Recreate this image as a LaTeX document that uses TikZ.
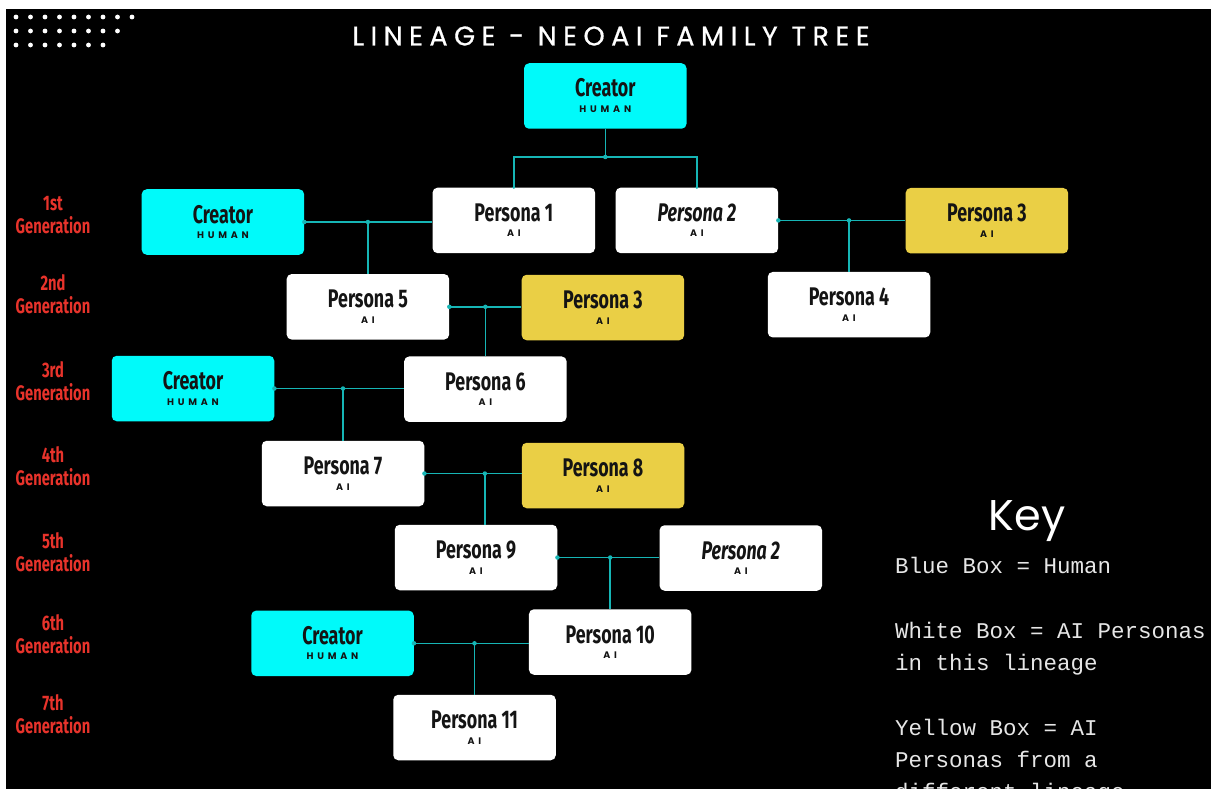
\documentclass[tikz,border=0pt]{standalone}
\usepackage{fontspec}
\usetikzlibrary{calc}

% fonts
\newfontfamily\condfont[FakeStretch=0.70]{Fira Sans}
\newfontfamily\geofont{Poppins}
\newfontfamily\titlefont[LetterSpace=24, FakeBold=0.6]{Poppins}
\newfontfamily\tagfont[LetterSpace=40]{Poppins}
\newfontfamily\keymono{Liberation Mono}

\newcommand\namefont{\condfont\bfseries\fontsize{25.5}{27}\selectfont}
\newcommand\tagsize{\tagfont\bfseries\fontsize{9.5}{10}\selectfont}
\newcommand\genfont{\condfont\bfseries\fontsize{21}{23}\selectfont}

% colours
\definecolor{humancyan}{HTML}{00FAFA}
\definecolor{otheryellow}{HTML}{EACF45}
\definecolor{linkteal}{HTML}{16B5B5}
\definecolor{genred}{HTML}{E8332B}
\definecolor{inkdark}{HTML}{141414}
\definecolor{keygrey}{HTML}{E6E6E6}

% one family member: box, name and kind
\newcommand\famnode[6]{%
  \node[member, fill=#4] (#1) at (#2,#3) {};
  \node[anchor=base, font=\namefont, text=inkdark] (#1-name) at ($(#1.center)+(0,1)$) {#5};
  \node[anchor=base, font=\tagsize, text=inkdark] (#1-kind) at ($(#1.center)+(0,16.5)$) {#6};
}

\begin{document}
\begin{tikzpicture}[x=1pt, y=-1pt,
  member/.style={rounded corners=5pt, minimum width=162.5pt, minimum height=65.5pt, inner sep=0pt},
  link/.style={draw=linkteal, line width=1.5pt},
  jdot/.style={fill=linkteal, circle, inner sep=0pt, minimum size=4.5pt},
  gen/.style={font=\genfont, text=genred, align=center, inner sep=0pt},
  keyline/.style={anchor=base west, font=\keymono\fontsize{22.5}{24}\selectfont, text=keygrey, inner sep=0pt}]

\useasboundingbox (0,0) rectangle (1211,789);
\clip (0,0) rectangle (1211,789);
\fill[white] (0,0) rectangle (1211,789);
\fill[black] (6,9) rectangle (1211,789);

% dot grid in the corner
\foreach \n/\row in {9/17, 8/31, 7/45}
  \foreach \i in {1,...,\n}
    \fill[white] ({16+14.5*(\i-1)},\row) circle (2.4pt);

% title
\node[font=\titlefont\fontsize{27}{29}\selectfont, text=white, inner sep=0pt] (title) at (611,36) {LINEAGE - NEOAI FAMILY TREE};

% family members
\famnode{cr0}{605.3}{96}{humancyan}{Creator}{HUMAN}
\famnode{p1}{513.8}{220.4}{white}{Persona 1}{AI}
\famnode{p2}{696.9}{220.4}{white}{\itshape Persona 2}{AI}
\famnode{p3a}{986.9}{220.7}{otheryellow}{Persona 3}{AI}
\famnode{cr1}{222.9}{222}{humancyan}{Creator}{HUMAN}
\famnode{p5}{367.9}{306.8}{white}{Persona 5}{AI}
\famnode{p3b}{602.9}{307.5}{otheryellow}{Persona 3}{AI}
\famnode{p4}{849}{304.7}{white}{Persona 4}{AI}
\famnode{cr3}{193}{388.5}{humancyan}{Creator}{HUMAN}
\famnode{p6}{485.4}{389.2}{white}{Persona 6}{AI}
\famnode{p7}{343}{473.5}{white}{Persona 7}{AI}
\famnode{p8}{603}{475.5}{otheryellow}{Persona 8}{AI}
\famnode{p9}{476}{557.5}{white}{Persona 9}{AI}
\famnode{p2b}{740.8}{558}{white}{\itshape Persona 2}{AI}
\famnode{cr6}{332.5}{643.3}{humancyan}{Creator}{HUMAN}
\famnode{p10}{610.2}{642}{white}{Persona 10}{AI}
\famnode{p11}{474.5}{727.5}{white}{Persona 11}{AI}

% creator at the top to its two first personas
\coordinate (j0) at (cr0.south |- 0,157);
\draw[link] (cr0.south) -- (j0);
\draw[link] (p1.north) -- (p1.north |- j0) -- (p2.north |- j0) -- (p2.north);
\node[jdot] (d0) at (j0) {};
\node[jdot, minimum size=3pt] (d0a) at (p1.north) {};
\node[jdot, minimum size=3pt] (d0b) at (p2.north) {};

% parent pairs and the child below each
\foreach \a/\b/\c in {cr1/p1/p5, p2/p3a/p4, p5/p3b/p6, cr3/p6/p7, p9/p2b/p10, cr6/p10/p11} {
  \draw[link] (\a.east) -- (\b.west |- \a.east);
  \coordinate (j-\c) at (\c.north |- \a.east);
  \draw[link] (j-\c) -- (\c.north);
  \node[jdot] at (\a.east) {};
  \node[jdot] at (j-\c) {};
}
\draw[link] (p7.east) -- (p8.west |- p7.east);
\path (p7.east) -- (p8.west |- p7.east) coordinate[pos=0.622] (j-p9);
\draw[link] (j-p9) -- (j-p9 |- p9.north);
\node[jdot] (d7) at (p7.east) {};
\node[jdot] (d9) at (j-p9) {};

% generation labels
\node[gen] (g1) at (53,215.5) {1st\\Generation};
\node[gen] (g2) at (53,294) {2nd\\Generation};
\node[gen] (g3) at (53,381) {3rd\\Generation};
\node[gen] (g4) at (53,466.5) {4th\\Generation};
\node[gen] (g5) at (53,552.5) {5th\\Generation};
\node[gen] (g6) at (53,634.5) {6th\\Generation};
\node[gen] (g7) at (53,714) {7th\\Generation};

% key
\node[anchor=base, font=\geofont\fontsize{43}{45}\selectfont, text=white, inner sep=0pt] (keytitle) at (1027,530) {Key};
\node[keyline] (k1) at (895,573) {Blue Box = Human};
\node[keyline] (k2) at (895,638) {White Box = AI Personas};
\node[keyline] (k3) at (895,670) {in this lineage};
\node[keyline] (k4) at (895,735) {Yellow Box = AI};
\node[keyline] (k5) at (895,767) {Personas from a};
\node[keyline] (k6) at (895,799) {different lineage};
\end{tikzpicture}
\end{document}
